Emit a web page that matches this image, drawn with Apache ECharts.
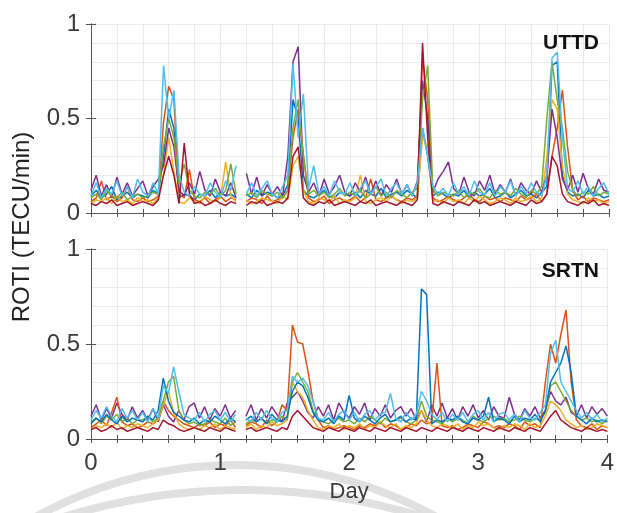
<!DOCTYPE html>
<html lang="en">
<head>
  <meta charset="UTF-8">
  <title>ROTI UTTD / SRTN</title>
  <script src="https://cdn.jsdelivr.net/npm/echarts@6/dist/echarts.min.js"></script>
  <style>
    html, body { margin: 0; padding: 0; background: #fff; }
  </style>
</head>
<body>
  <div id="chart" style="width: 617px; height: 513px;"></div>

  <script>
    // sample times (day), one sample every 0.04 day
    const days = Array.from({ length: 101 }, (_, i) => +(i * 0.04).toFixed(2))
    const xTicks = [0, 1, 2, 3, 4]
    const yTicks = [0, 0.5, 1]

    // ROTI in units of 0.01 TECU/min, null = data gap
    // UTTD
    const uttdBlue = [9,12,8,10,14,7,9,11,8,10, 9,8,12,10,30,55,45,8,10,9, 7,10,9,12,8,11,9,10,8,null,
      10,8,12,9,11,10,8,9,15,60, 50,12,9,8,10,12,9,8,11,10, 9,11,8,12,10,9,13,8,10,11,
      9,12,10,8,45,30,9,11,10,8, 10,9,12,8,11,9,10,13,8,9, 11,8,10,12,9,10,8,11,14,78, 80,20,11,9,10,8,12,9,10,8, 9]
    const uttdOrange = [6,8,17,7,9,6,8,14,7,6, 8,6,7,9,48,67,60,10,8,23, 7,6,8,5,7,9,6,8,7,null,
      6,8,7,5,9,6,7,8,12,40, 55,31,8,6,7,9,5,7,8,6, 7,9,6,8,18,7,6,8,9,7,
      6,8,7,9,82,60,8,6,7,9, 7,6,8,10,7,6,9,7,8,6, 8,7,6,9,7,8,10,6,10,30, 45,65,35,12,7,9,6,8,7,6, 7]
    const uttdYellow = [5,7,6,8,5,9,6,7,5,8, 6,7,5,8,20,40,22,6,5,8, 6,5,9,7,6,8,27,9,6,null,
      7,5,6,8,7,6,5,9,7,25, 30,12,6,5,8,7,6,9,5,7, 6,8,20,6,5,7,8,6,9,7,
      5,7,6,8,40,35,6,7,5,8, 6,7,5,8,6,9,7,5,6,8, 7,5,8,6,7,9,6,8,30,60, 55,25,10,7,6,5,8,6,7,5, 6]
    const uttdPurple = [12,20,9,15,8,19,10,16,9,13, 17,9,14,18,25,45,35,12,9,16, 10,22,12,9,18,11,9,16,8,null,
      21,10,19,9,15,10,14,9,30,80, 88,20,11,16,9,18,10,14,20,11, 9,16,11,19,10,17,9,15,11,18,
      10,15,9,17,70,50,11,18,22,27, 13,10,19,11,9,17,12,20,10,15, 11,18,9,16,12,10,17,11,20,55, 40,18,12,20,11,21,13,10,18,12, 11]
    const uttdGreen = [8,10,7,12,9,8,11,7,9,10, 8,9,11,10,35,50,40,15,26,12, 9,8,11,10,13,9,12,26,10,null,
      9,11,8,12,10,9,11,8,12,45, 60,30,10,12,9,11,8,10,13,9, 11,9,12,8,10,14,9,11,8,12,
      10,8,11,13,60,78,12,9,11,10, 9,12,8,11,10,13,9,8,12,10, 11,9,13,10,8,12,10,14,50,80, 60,45,22,12,9,11,10,14,9,11, 10]
    const uttdRed = [5,4,6,5,7,4,5,6,4,5, 6,5,4,7,20,30,20,5,37,10, 5,6,4,5,7,5,4,6,5,null,
      4,6,5,7,4,5,6,5,8,30, 35,8,5,4,6,5,7,4,5,6, 5,4,6,5,7,4,5,6,5,4,
      6,5,4,7,90,40,5,4,6,5, 4,6,5,4,7,5,6,4,5,6, 5,4,6,5,4,7,5,6,10,30, 25,10,6,5,4,6,5,7,4,5, 4]
    const uttdCyan = [9,16,8,13,10,17,9,14,8,18, 11,9,16,10,78,50,65,20,11,9, 14,10,9,16,11,8,17,12,25,null,
      10,16,9,13,17,10,8,14,20,79, 40,63,13,25,10,14,9,17,11,10, 16,9,13,17,10,14,18,9,13,16,
      10,15,9,16,45,30,14,10,13,9, 16,10,14,9,17,11,10,16,9,14, 11,17,9,14,10,16,11,9,20,82, 85,40,13,11,17,10,14,9,13,16, 10]

    // SRTN
    const srtnBlue = [8,11,9,13,10,8,12,9,11,10, 9,12,10,15,32,20,14,12,10,9, 11,8,10,9,12,10,8,11,9,null,
      10,12,9,11,8,13,10,9,12,25, 30,28,22,14,10,9,11,8,12,10, 23,11,9,12,10,8,11,13,9,10,
      12,9,11,10,79,76,8,10,9,11, 10,12,9,8,11,10,12,22,9,11, 10,8,12,9,11,10,13,9,15,30, 35,40,49,35,12,10,8,11,9,10, 9]
    const srtnOrange = [6,8,10,7,14,22,9,7,8,6, 7,9,8,10,20,15,12,10,8,7, 6,8,7,9,6,8,7,10,6,null,
      7,9,8,6,10,7,9,18,15,60, 51,50,36,20,10,6,7,5,6,7, 6,5,7,6,8,7,9,6,8,7,
      5,6,8,7,10,8,9,40,7,6, 7,5,6,8,7,6,9,8,6,7, 6,8,7,5,9,7,8,6,30,50, 40,55,68,30,10,7,6,8,5,7, 6]
    const srtnYellow = [5,7,6,8,6,9,5,7,6,8, 7,6,8,10,18,25,14,8,6,5, 6,5,7,6,8,5,7,6,5,null,
      6,8,5,7,6,9,7,8,10,30, 25,22,15,10,6,5,7,6,8,5, 7,6,8,5,7,6,9,7,6,8,
      5,7,6,8,15,10,7,6,8,7, 6,8,5,7,6,9,7,8,6,5, 7,6,8,7,5,8,6,7,12,20, 18,15,10,8,6,7,5,6,8,7, 6]
    const srtnPurple = [12,18,10,16,11,19,13,10,17,11, 15,10,16,9,18,12,9,15,10,17, 19,11,17,10,16,12,18,11,15,null,
      12,18,10,16,11,17,13,9,19,22, 25,20,14,11,17,12,18,10,19,14, 11,17,13,19,10,16,12,18,11,15,
      17,12,16,10,15,9,18,12,19,11, 16,10,17,12,18,11,15,10,17,12, 11,22,13,10,16,12,17,11,15,25, 20,18,22,14,12,18,11,17,13,16, 12]
    const srtnGreen = [9,11,8,12,10,13,9,11,8,10, 10,12,9,11,20,30,33,15,10,8, 9,7,8,10,9,8,11,7,9,null,
      8,10,9,11,8,10,9,12,10,30, 35,30,25,15,10,9,8,10,11,9, 10,8,11,9,12,10,8,11,9,10,
      11,9,8,10,20,12,10,9,8,11, 9,11,10,8,12,10,9,11,12,10, 11,9,10,12,10,9,11,10,14,28, 30,25,20,15,12,10,11,9,10,8, 10]
    const srtnRed = [5,6,4,5,7,5,6,4,5,6, 5,4,6,5,10,8,7,5,4,5, 6,5,4,6,5,4,6,5,4,null,
      5,6,4,5,6,5,4,6,5,12, 15,12,9,6,5,4,6,5,4,6, 5,4,6,5,4,6,5,4,6,5,
      4,6,5,4,6,5,4,6,5,4, 6,5,4,6,5,4,6,5,4,6, 5,4,6,5,4,6,5,4,8,12, 15,10,8,6,5,4,6,5,4,5, 4]
    const srtnCyan = [10,15,11,17,12,9,16,11,15,10, 14,9,16,11,28,24,38,25,13,11, 10,14,9,13,15,10,14,9,13,null,
      11,9,14,10,15,11,9,14,15,33, 30,32,28,20,11,10,14,9,13,15, 10,14,9,13,15,10,13,14,24,11,
      9,14,10,13,25,20,13,10,14,9, 13,10,14,9,13,15,10,14,9,13, 14,10,13,9,15,11,10,14,18,45, 52,30,25,20,15,11,14,10,13,9, 11]

    const colors = {
      blue: '#0072BD', orange: '#D95319', yellow: '#EDB120', purple: '#7E2F8E',
      green: '#77AC30', cyan: '#4DBEEE', red: '#A2142F'
    }

    const uttd = [
      ['blue', uttdBlue], ['orange', uttdOrange], ['yellow', uttdYellow], ['purple', uttdPurple],
      ['green', uttdGreen], ['red', uttdRed], ['cyan', uttdCyan]
    ]
    const srtn = [
      ['purple', srtnPurple], ['orange', srtnOrange], ['yellow', srtnYellow], ['red', srtnRed],
      ['green', srtnGreen], ['blue', srtnBlue], ['cyan', srtnCyan]
    ]

    function makeSeries(list, idx) {
      return list.map(([c, vals]) => ({
        type: 'line',
        xAxisIndex: idx * 2,
        yAxisIndex: idx * 2,
        showSymbol: false,
        symbol: 'none',
        lineStyle: { color: colors[c], width: 1.5 },
        data: vals.map((v, i) => [days[i], v == null ? '-' : v / 100])
      }))
    }

    const gridColor = '#ebebeb'
    const boxColor = '#555'
    const labelFont = { fontFamily: 'Liberation Sans', fontSize: 24, color: '#3a3a3a' }

    function xAxes(gi, withLabels) {
      const base = {
        type: 'value', gridIndex: gi, min: xTicks[0], max: xTicks[xTicks.length - 1], interval: 1,
        axisLine: { lineStyle: { color: boxColor, width: 1 } },
        axisTick: { inside: true, length: 4, lineStyle: { color: boxColor } },
        minorTick: { show: true, splitNumber: 5, length: 4, lineStyle: { color: boxColor } }
      }
      return [
        Object.assign({}, base, {
          position: 'bottom',
          axisLabel: withLabels ? Object.assign({ margin: 12 }, labelFont) : { show: false },
          splitLine: { show: true, lineStyle: { color: gridColor } },
          minorSplitLine: { show: true, lineStyle: { color: gridColor } },
          name: withLabels ? 'Day' : '',
          nameLocation: 'middle',
          nameGap: 42,
          nameTextStyle: Object.assign({}, labelFont, { fontSize: 22 })
        }),
        Object.assign({}, base, {
          position: 'top',
          axisLabel: { show: false },
          splitLine: { show: false }
        })
      ]
    }

    function yAxes(gi) {
      const base = {
        type: 'value', gridIndex: gi, min: yTicks[0], max: yTicks[yTicks.length - 1], interval: 0.5,
        axisLine: { show: true, lineStyle: { color: boxColor, width: 1 } },
        axisTick: { show: true, inside: true, length: 5, lineStyle: { color: boxColor } }
      }
      return [
        Object.assign({}, base, {
          position: 'left',
          axisLabel: Object.assign({ margin: 11 }, labelFont),
          splitLine: { show: true, lineStyle: { color: gridColor } },
          minorTick: { show: false, splitNumber: 5 },
          minorSplitLine: { show: true, lineStyle: { color: gridColor } }
        }),
        Object.assign({}, base, {
          position: 'right',
          axisLabel: { show: false },
          splitLine: { show: false }
        })
      ]
    }

    const myChart = echarts.init(document.getElementById('chart'))

    const option = {
      animation: false,
      backgroundColor: '#fff',
      grid: [
        { left: 91, top: 24, width: 518, height: 189 },
        { left: 91, top: 249, width: 518, height: 190 }
      ],
      xAxis: xAxes(0, false).concat(xAxes(1, true)),
      yAxis: yAxes(0).concat(yAxes(1)),
      series: makeSeries(uttd, 0).concat(makeSeries(srtn, 1)),
      graphic: [
        // light grey arcs of the watermark behind the axis text
        { type: 'circle', z: -10, silent: true, shape: { cx: 236, cy: 877, r: 412 },
          style: { fill: 'none', stroke: '#e0e0e0', lineWidth: 8 } },
        { type: 'circle', z: -10, silent: true, shape: { cx: 243, cy: 1100, r: 610 },
          style: { fill: 'none', stroke: '#e0e0e0', lineWidth: 8 } },
        // y title shared by both panels
        { type: 'text', z: 100, x: 22, y: 227, rotation: Math.PI / 2,
          style: { text: 'ROTI (TECU/min)', font: '24px "Liberation Sans"', fill: '#222',
            align: 'center', verticalAlign: 'middle' } },
        { type: 'text', z: 100, x: 599, y: 43,
          style: { text: 'UTTD', font: 'bold 21px "Liberation Sans"', fill: '#111',
            align: 'right', verticalAlign: 'middle' } },
        { type: 'text', z: 100, x: 599, y: 271,
          style: { text: 'SRTN', font: 'bold 21px "Liberation Sans"', fill: '#111',
            align: 'right', verticalAlign: 'middle' } }
      ]
    }

    myChart.setOption(option)
  </script>
</body>
</html>
